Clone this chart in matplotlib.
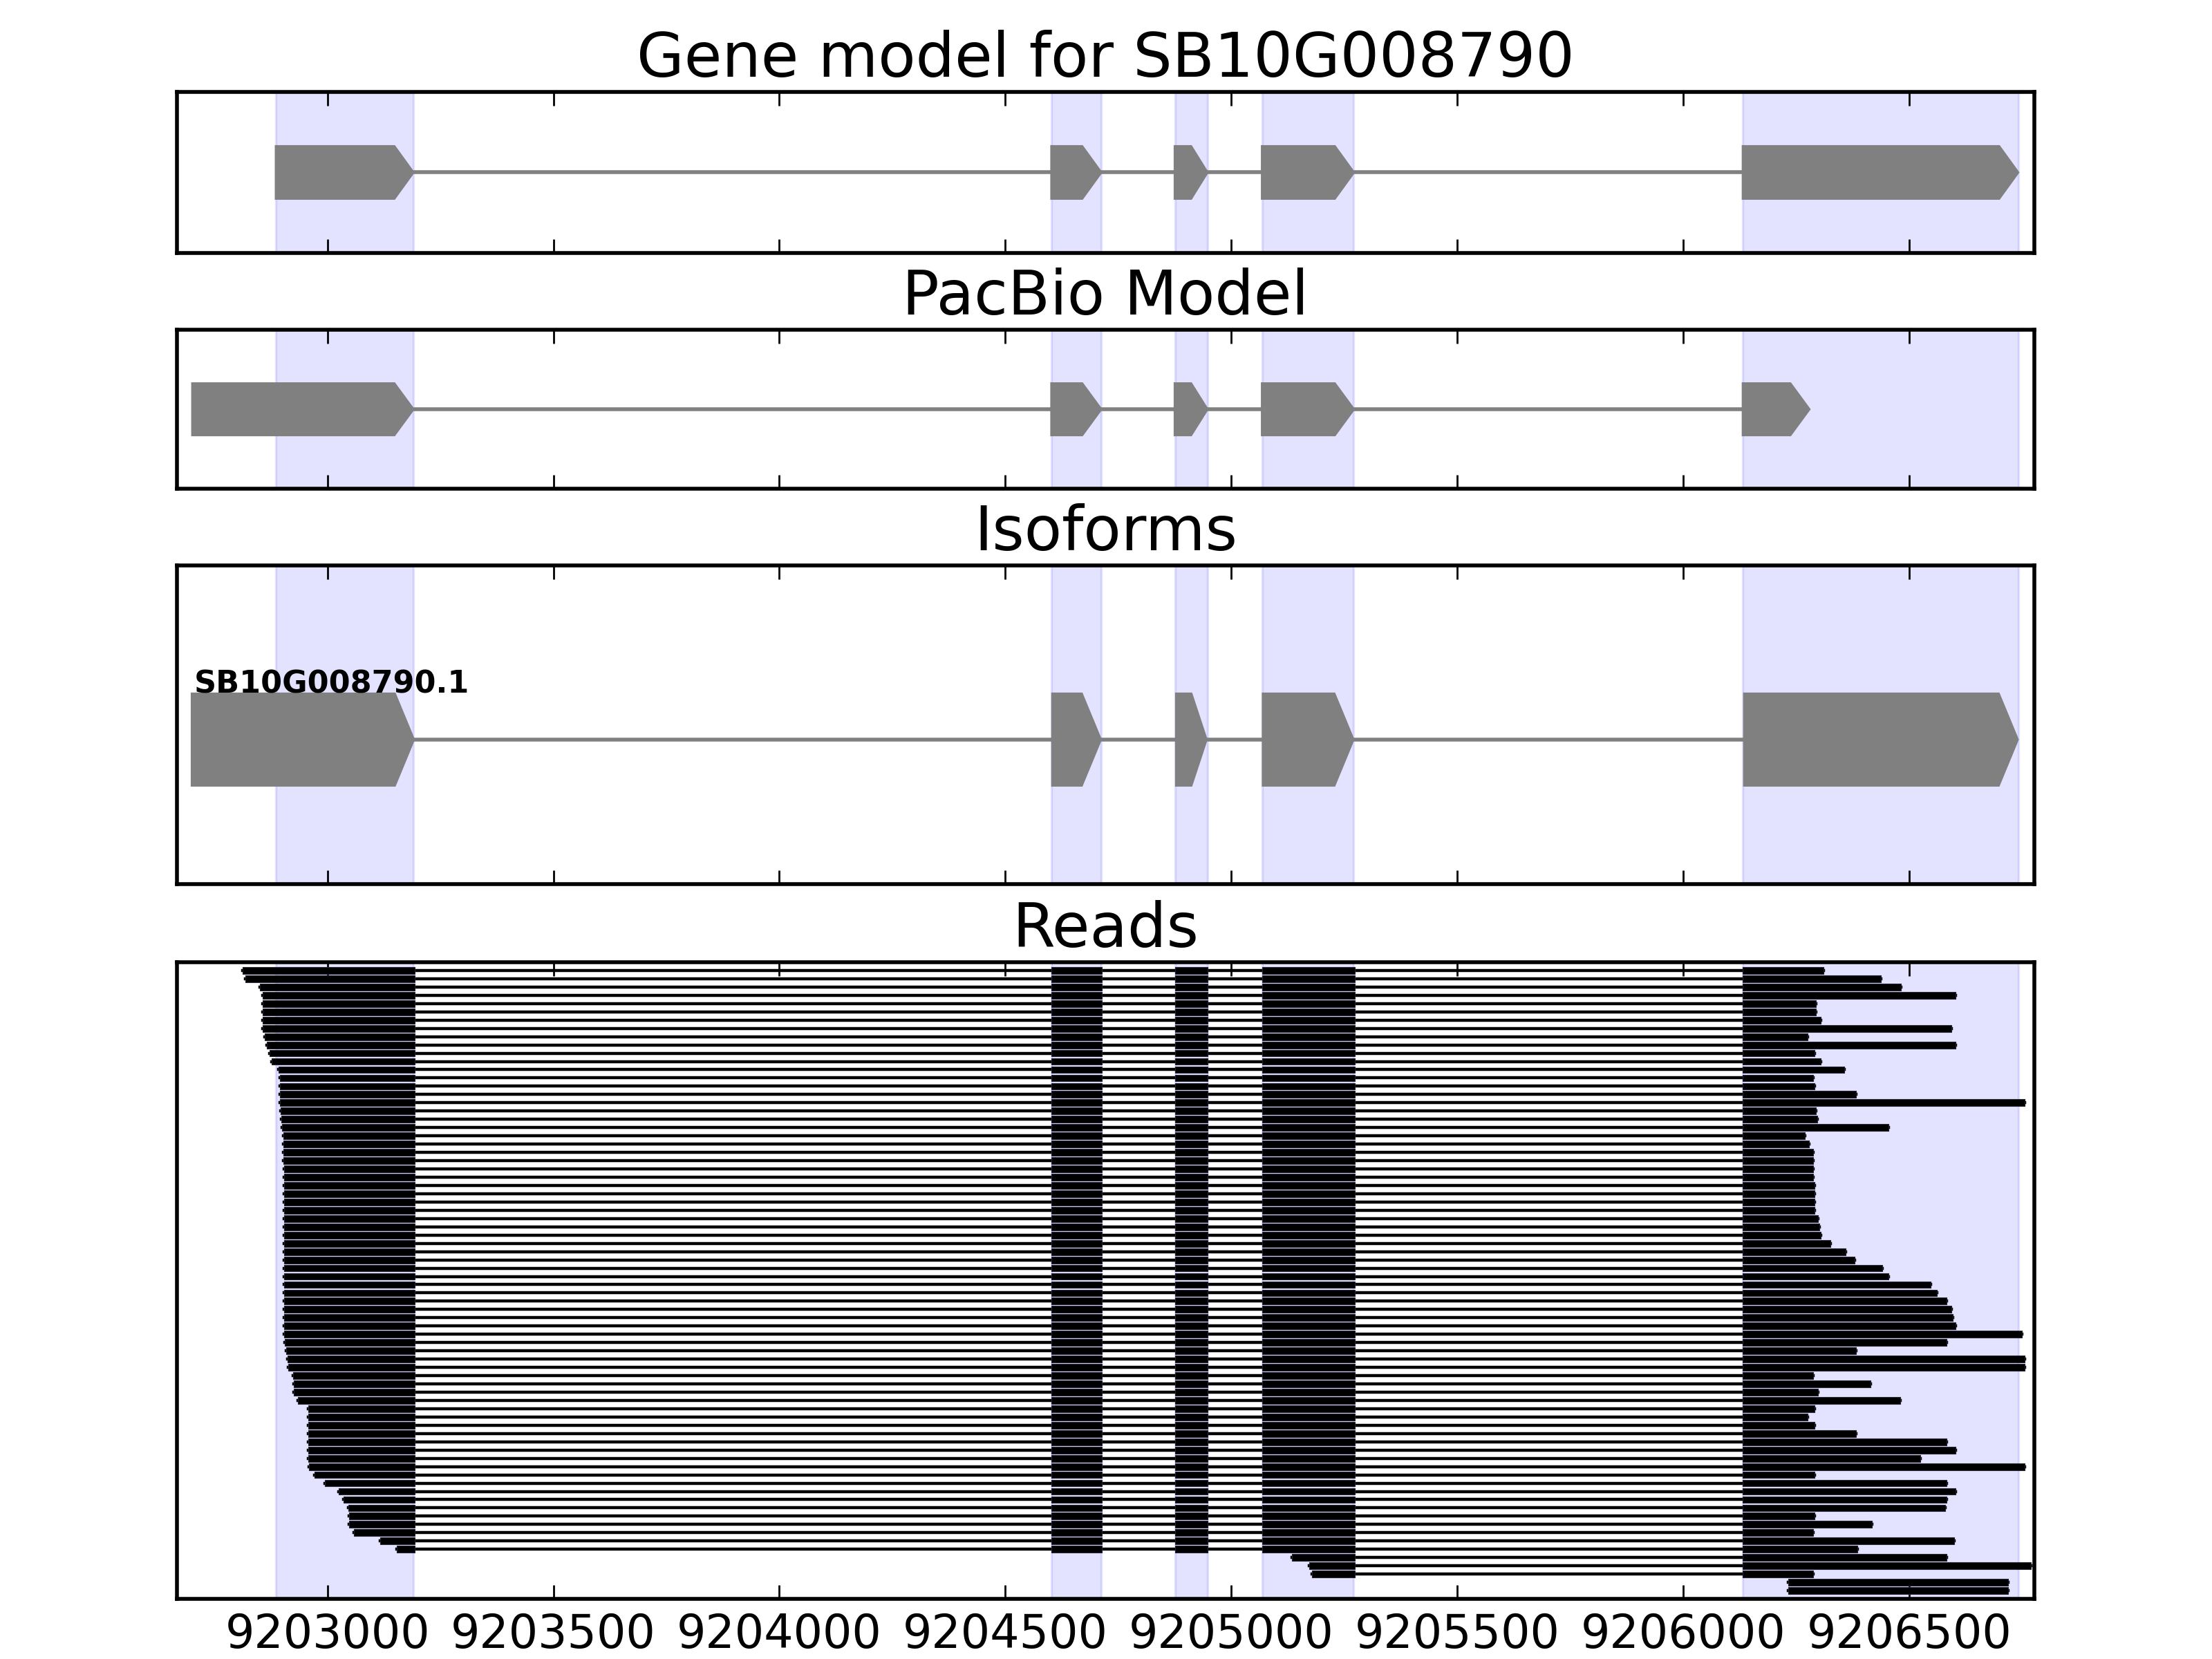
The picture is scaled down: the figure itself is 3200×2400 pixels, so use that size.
import matplotlib
matplotlib.use('Agg')
import matplotlib.pyplot as plt

# exon coordinates (bp)
gene_exons = [(9202886, 9203190), (9204602, 9204712), (9204875, 9204947),
              (9205068, 9205271), (9206132, 9206741)]
pacbio_exons = [(9202701, 9203190), (9204602, 9204712), (9204875, 9204947),
                (9205068, 9205271), (9206132, 9206279)]
iso_exons = [(9202700, 9203191), (9204604, 9204711), (9204878, 9204945),
             (9205070, 9205270), (9206135, 9206740)]
iso_name = 'SB10G008790.1'
gene_name = 'SB10G008790'

# shaded regions = gene model exons
shade = gene_exons

# read exon boundaries shared by the reads (first exon start / last exon end vary)
read_template = [(None, 9203193), (9204602, 9204714), (9204876, 9204947),
                 (9205068, 9205274), (9206132, None)]

read_starts = [9202812, 9202818, 9202850, 9202857, 9202857, 9202857, 9202857, 9202857,
               9202862, 9202866, 9202872, 9202876, 9202892, 9202895, 9202895, 9202895,
               9202895, 9202897, 9202898, 9202900, 9202902, 9202902, 9202903, 9202903,
               9202904, 9202904, 9202904, 9202904, 9202904, 9202904, 9202904, 9202904,
               9202904, 9202904, 9202904, 9202904, 9202904, 9202904, 9202904, 9202904,
               9202904, 9202904, 9202904, 9202904, 9202904, 9202906, 9202908, 9202911,
               9202914, 9202924, 9202925, 9202926, 9202934, 9202957, 9202957, 9202957,
               9202957, 9202957, 9202957, 9202957, 9202959, 9202972, 9202995, 9203025,
               9203036, 9203047, 9203048, 9203048, 9203058, 9203116, 9203153, 9205134,
               9205172, 9205178, 9206232, 9206232]
read_ends = [9206310, 9206438, 9206481, 9206602, 9206293, 9206293, 9206305, 9206593,
             9206276, 9206602, 9206290, 9206305, 9206356, 9206288, 9206291, 9206382,
             9206756, 9206293, 9206296, 9206454, 9206269, 9206278, 9206287, 9206288,
             9206288, 9206288, 9206290, 9206290, 9206291, 9206291, 9206298, 9206301,
             9206305, 9206325, 9206359, 9206380, 9206440, 9206454, 9206548, 9206562,
             9206582, 9206593, 9206596, 9206602, 9206750, 9206582, 9206383, 9206756,
             9206756, 9206288, 9206414, 9206298, 9206480, 9206290, 9206275, 9206291,
             9206383, 9206582, 9206602, 9206524, 9206756, 9206290, 9206582, 9206602,
             9206582, 9206579, 9206291, 9206417, 9206287, 9206600, 9206385, 9206582,
             9206770, 9206287, 9206719, 9206719]

xmin, xmax = 9202667, 9206777
xticks = [9203000, 9203500, 9204000, 9204500, 9205000, 9205500, 9206000, 9206500]

plt.rcParams['xtick.direction'] = 'in'
plt.rcParams['ytick.direction'] = 'in'
plt.rcParams['xtick.top'] = True
plt.rcParams['xtick.major.size'] = 3.6
plt.rcParams['xtick.major.width'] = 0.5
plt.rcParams['xtick.major.pad'] = 3.5
plt.rcParams['xtick.labelsize'] = 12
plt.rcParams['axes.linewidth'] = 1.0

fig = plt.figure(figsize=(8, 6), dpi=400)
left, width = 0.08, 0.8397
ax1 = fig.add_axes([left, 0.8475, width, 0.0971])
ax2 = fig.add_axes([left, 0.7054, width, 0.0958])
ax3 = fig.add_axes([left, 0.4671, width, 0.1921])
ax4 = fig.add_axes([left, 0.03625, width, 0.38375])


def draw_model(ax, exons, yc, hh):
    ax.plot([exons[0][1], exons[-1][0]], [yc, yc], color='gray', lw=1, zorder=2)
    for s, e in exons:
        head = min(42, 0.5 * (e - s))
        xs = [s, e - head, e, e - head, s]
        ys = [yc - hh, yc - hh, yc, yc + hh, yc + hh]
        ax.fill(xs, ys, facecolor='gray', edgecolor='gray', lw=0.6, zorder=3)


for ax in (ax1, ax2, ax3, ax4):
    for s, e in shade:
        ax.axvspan(s, e, color='blue', alpha=0.11, lw=0.6, zorder=0)
    ax.set_xlim(xmin, xmax)
    ax.set_xticks(xticks)
    ax.set_yticks([])
    ax.ticklabel_format(useOffset=False, style='plain', axis='x')

for ax in (ax1, ax2, ax3):
    ax.tick_params(labelbottom=False)

ax1.set_ylim(-1, 1)
draw_model(ax1, gene_exons, 0, 0.325)
ax1.set_title('Gene model for ' + gene_name, fontsize=16, pad=4)

ax2.set_ylim(-1, 1)
draw_model(ax2, pacbio_exons, 0, 0.325)
ax2.set_title('PacBio Model', fontsize=16, pad=4)

ax3.set_ylim(0, 1)
draw_model(ax3, iso_exons, 0.4534, 0.144)
ax3.text(iso_exons[0][0] + 5, 0.4534 + 0.147, iso_name, fontsize=8,
         fontweight='bold', ha='left', va='baseline')
ax3.set_title('Isoforms', fontsize=16, pad=4)

n = len(read_starts)
ax4.set_ylim(0, n + 1)
for i in range(n):
    y = n - i
    s, e = read_starts[i], read_ends[i]
    blocks = []
    for a, b in read_template:
        a = s if a is None else max(a, s)
        b = e if b is None else min(b, e)
        if b > a:
            blocks.append((a, b - a))
    ax4.plot([s, e], [y, y], color='black', lw=0.8, zorder=2)
    ax4.broken_barh(blocks, (y - 0.41, 0.82), facecolor='black',
                    edgecolor='#222233', lw=0.2, zorder=3)
ax4.set_title('Reads', fontsize=16, pad=4)

fig.savefig('out.png', dpi=400)
